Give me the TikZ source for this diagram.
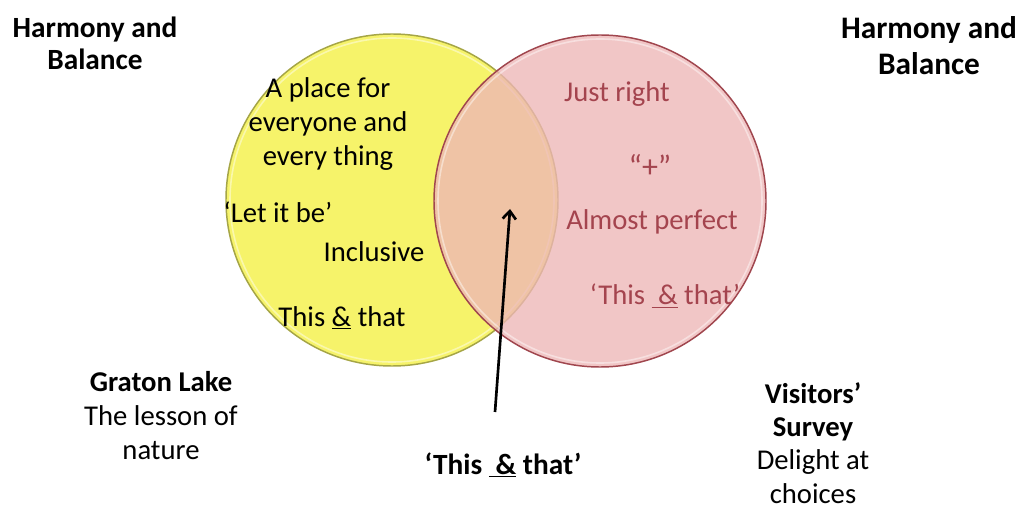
\documentclass[tikz,border=0pt]{standalone}
\usepackage{fontspec}
\setmainfont{Carlito}
\usetikzlibrary{arrows.meta}
\definecolor{yfill}{RGB}{246,243,106}
\definecolor{yborder}{RGB}{165,165,70}
\definecolor{pfill}{RGB}{238,182,182}
\definecolor{pborder}{RGB}{160,70,78}
\definecolor{ptext}{RGB}{164,68,78}
\begin{document}
\begin{tikzpicture}[x=0.75pt,y=-0.75pt,
  reg/.style={font=\fontsize{21.5}{25.5}\selectfont, text=black, align=center, inner sep=0pt},
  preg/.style={reg, text=ptext},
  bld/.style={font=\bfseries\fontsize{22}{24.5}\selectfont, text=black, align=center, inner sep=0pt},
  venn/.style={circle, inner sep=0pt, minimum size=249pt, line width=1.1pt},
  gloss/.style={circle, inner sep=0pt, minimum size=243pt, draw=white, draw opacity=0.45, line width=1.2pt},
  pointer/.style={line width=2pt, -{Straight Barb[length=6pt,width=10pt,line width=2pt]}}
]
\useasboundingbox (0,0) rectangle (1024,509);
\fill[white] (0,0) rectangle (1024,509);

% circles
\node[venn, fill=yfill, draw=yborder] (ycirc) at (392,200) {};
\node[gloss] (ygloss) at (392,200) {};
\node[venn, fill=pfill, fill opacity=0.78, draw=pborder] (pcirc) at (600,201) {};
\node[gloss] (pgloss) at (600,201) {};

% headers
\node[bld, font=\bfseries\fontsize{22}{24}\selectfont] (hl) at (95,43) {Harmony and\\Balance};
\node[bld, font=\bfseries\fontsize{23.5}{27}\selectfont] (hr) at (929,46) {Harmony and\\Balance};

% yellow texts
\node[reg] (place) at (328,124) {A place for\\everyone and\\every thing};
\node[reg] (letit) at (278,212) {‘Let it be’};
\node[reg] (incl) at (374,252) {Inclusive};
\node[reg] (thisy) at (342,318) {This \underline{\&} that};

% pink texts
\node[preg] (just) at (617,94) {Just right};
\node[preg, font=\fontsize{24}{28}\selectfont] (plus) at (650,166) {“+”};
\node[preg] (almost) at (652,222) {Almost perfect};
\node[preg] (thisp) at (665,296) {‘This \underline{\ \&} that’};

% bottom texts
\node[reg] (graton) at (161,416) {\textbf{Graton Lake}\\The lesson of\\nature};
\node[bld] (bottom) at (503,465) {‘This \underline{\ \&} that’};
\node[reg, font=\fontsize{21.5}{25}\selectfont] (visit) at (813,443) {\textbf{Visitors’}\\\textbf{Survey}\\Delight at\\choices};

% arrow
\coordinate (tail) at (495,412);
\coordinate (tip) at (510,209);
\draw[pointer] (tail) -- (tip);
\end{tikzpicture}
\end{document}
